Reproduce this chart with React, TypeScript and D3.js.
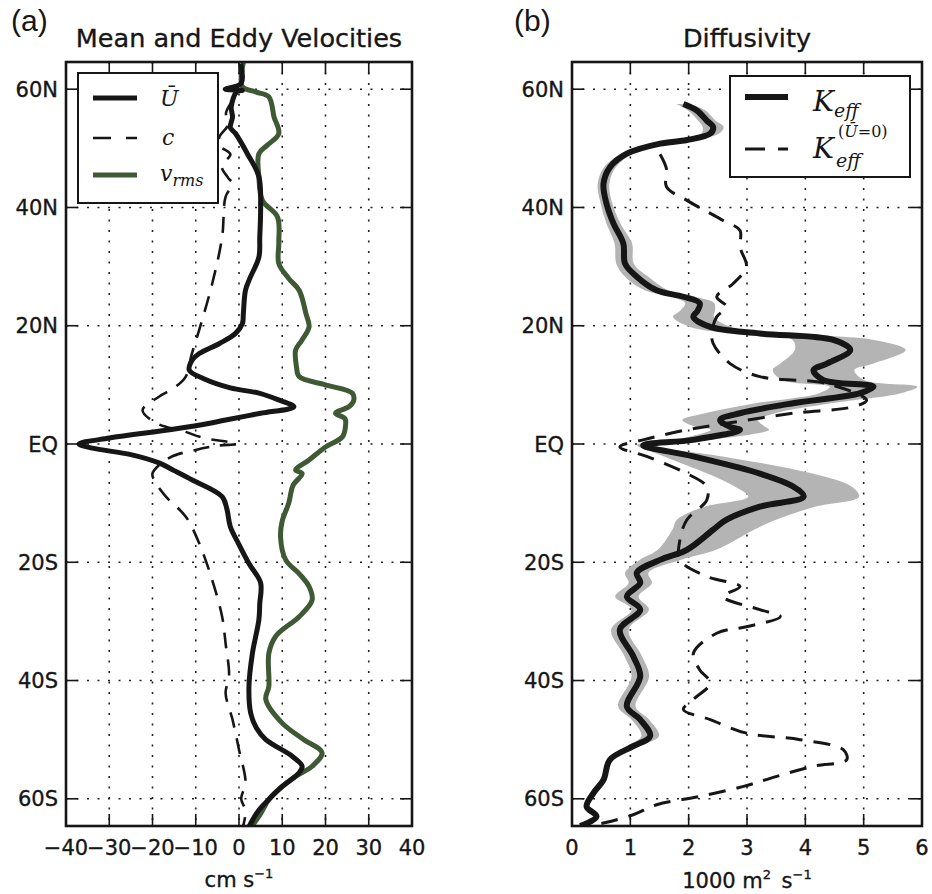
import React from 'react';
import * as d3 from 'd3';

// tick labels
const latTicks = [60, 40, 20, 0, -20, -40, -60];
const latLabels = ['60N', '40N', '20N', 'EQ', '20S', '40S', '60S'];
const velTicks = [-40, -30, -20, -10, 0, 10, 20, 30, 40];
const velLabels = ['\u221240', '\u221230', '\u221220', '\u221210', '0', '10', '20', '30', '40'];
const kTicks = [0, 1, 2, 3, 4, 5, 6];
const kLabels = ['0', '1', '2', '3', '4', '5', '6'];

// (a) mean zonal velocity U-bar, cm/s
const uLat = [64.3, 61, 60.0, 59.8, 59.6, 57, 55.3, 53.5, 52.5, 49, 45.2, 40.1, 35, 31.6, 28, 26, 22, 20.4, 18.7, 17, 15.3, 14.2, 12.5, 11, 9.5, 8.6, 7.5, 6.3, 5.2, 4.05, 3.2, 2.4, 1.0, 0, -0.7, -1.8, -3.2, -4.5, -6.1, -8.9, -11, -14, -17, -20.2, -23.5, -27, -29.7, -35.4, -41, -45.5, -48, -50, -52.8, -54.5, -55.6, -57.9, -60.1, -62, -64.7];
const uVal = [0.4, 0.5, -3.2, 0.8, -0.5, -1.8, -1.5, -2.0, -0.8, 2.0, 4.6, 5.0, 4.8, 4.6, 2.5, 1.5, 1.0, 0.8, -0.8, -4.5, -9.2, -10.8, -11.5, -8, -2, 4.6, 9, 12.7, 5, -3.1, -9, -16, -30, -37, -33.9, -25, -18.5, -15, -10.8, -3.9, -2.8, -2.0, 0, 2.3, 5.0, 4.8, 4.6, 3.1, 2.3, 2.7, 4.0, 6.2, 12.3, 14.6, 13.9, 10, 6.9, 4.5, 2.3];

// (a) eddy phase speed c, cm/s
const cLat = [58, 56, 54, 52, 50.5, 49, 47, 45, 44, 41.8, 35, 27.1, 19.3, 15, 11.4, 9.5, 8, 5.7, 3.5, 2.2, 1.0, 0.3, 0, -0.3, -1.0, -2.3, -5, -6.6, -8.9, -12.3, -16.8, -23, -29.2, -33.7, -39.3, -42.1, -46.6, -51.7, -57.3, -60, -62, -64.5];
const cVal = [-1.5, -3, -2.5, -4.5, -4.6, -2, -4, -2.5, -1.5, -3.1, -3.9, -6.2, -9.2, -11, -12.3, -15, -18.5, -22.3, -19, -13, -8, -2, -0.5, -5, -10, -16, -20, -19.2, -16.9, -12.3, -9.2, -6.2, -3.9, -3.1, -2.3, -3.1, -1.5, 0, 1.5, 0.5, 1.5, 1.0];

// (a) rms eddy velocity, cm/s
const vLat = [64.5, 62, 60.4, 59.5, 58.7, 55.3, 52.5, 50.5, 49.1, 45.2, 41.2, 38.4, 34, 30.5, 28, 26, 22, 19.8, 17.5, 15.9, 13, 11.4, 10, 8.6, 7.3, 6.3, 5.2, 4.3, 2.9, 1.2, -0.5, -2.7, -4.4, -5, -7, -10, -13, -15.7, -19.6, -22, -24.1, -26.4, -29.2, -32.5, -35.4, -41, -43.2, -47.2, -50, -52.2, -54.5, -56.2, -58.4, -60.1, -62.5, -64.6];
const vVal = [1.0, 0.5, 0.8, 4, 6.9, 8.1, 9.2, 6.5, 4.6, 4.6, 5.4, 8.9, 9.2, 9.2, 11.5, 13.9, 15.5, 16.2, 14.5, 13.1, 13.3, 13.9, 20, 26.2, 26.5, 25.4, 22.3, 24.5, 24.6, 23.9, 20, 16.2, 13.1, 14.6, 12.5, 11.5, 10, 9.6, 10.8, 14, 16.2, 16.9, 13.9, 8.5, 6.9, 6.9, 6.2, 10, 15, 19.2, 16.9, 13.1, 9.2, 6.9, 5, 3.0];

// (b) effective diffusivity, 1000 m2/s, with uncertainty half-width
const kLat = [57.5, 56.4, 54.7, 53.6, 52.5, 51.4, 50.8, 49.1, 46.8, 44, 40.7, 37.3, 33.9, 30.5, 28.3, 26, 24.9, 23.8, 22.5, 21.5, 19.8, 18.7, 17.6, 15.9, 13.6, 12.5, 10.8, 9.7, 8.6, 6.9, 5.2, 4.05, 2.9, 2.4, 0.7, -0.2, -2.1, -5, -7.2, -8.9, -10.6, -12.8, -14.5, -17.9, -19.6, -21.8, -23.5, -25.8, -28, -31.4, -35.9, -39.3, -44.4, -46.6, -49.4, -51.1, -53.4, -56.8, -59, -61.3, -63, -64.6];
const kVal = [1.91, 2.14, 2.31, 2.42, 2.37, 1.97, 1.51, 0.94, 0.65, 0.54, 0.59, 0.71, 0.88, 0.91, 1.11, 1.45, 1.91, 2.19, 2.15, 2.08, 2.37, 3.22, 4.48, 4.77, 4.37, 4.14, 4.31, 5.17, 4.94, 3.79, 2.88, 2.54, 2.71, 2.88, 2.08, 1.22, 2.08, 3.22, 3.79, 3.97, 3.22, 2.65, 2.42, 1.97, 1.51, 1.11, 1.17, 0.94, 1.17, 0.82, 1.05, 1.17, 0.94, 1.17, 1.34, 1.05, 0.65, 0.54, 0.37, 0.25, 0.42, 0.14];
const kErr = [0.12, 0.15, 0.15, 0.18, 0.15, 0.12, 0.1, 0.1, 0.1, 0.1, 0.1, 0.12, 0.15, 0.15, 0.2, 0.2, 0.2, 0.25, 0.3, 0.35, 0.35, 0.45, 0.7, 0.95, 0.8, 0.7, 0.7, 0.75, 0.7, 0.65, 0.6, 0.65, 0.6, 0.5, 0.3, 0.1, 0.5, 0.9, 1.0, 0.95, 0.95, 0.85, 0.7, 0.5, 0.35, 0.2, 0.2, 0.2, 0.15, 0.15, 0.15, 0.15, 0.15, 0.15, 0.15, 0.1, 0.05, 0.02, 0, 0, 0, 0];

// (b) diffusivity with U-bar = 0
const k0Lat = [49, 46.5, 43.5, 41.2, 37.8, 36.1, 33.3, 30, 27.1, 24.9, 23.2, 21.5, 19, 17, 13.6, 11.4, 10.2, 7.4, 6.3, 5.2, 3.5, 2.4, 0.7, -0.5, -2.1, -5, -7.2, -9.5, -12.8, -16.2, -19.6, -22.4, -24.1, -25.8, -28, -29.2, -30.9, -32, -35.4, -38.2, -40.4, -43.2, -44.9, -46.6, -48.9, -50, -51.7, -53.4, -54.5, -56.2, -57.9, -59.6, -61, -62.7, -64.1, -64.9];
const k0Val = [1.51, 1.62, 1.62, 1.97, 2.59, 2.88, 2.88, 2.99, 2.76, 2.48, 2.65, 2.48, 2.4, 2.42, 2.71, 3.22, 4.37, 5.05, 4.82, 3.79, 2.65, 1.97, 1.22, 0.82, 1.28, 1.97, 2.31, 2.31, 1.97, 1.85, 1.85, 2.31, 2.88, 2.59, 3.22, 3.57, 2.99, 2.48, 2.08, 2.19, 2.37, 2.08, 1.91, 2.37, 2.99, 3.91, 4.65, 4.71, 4.14, 3.51, 2.94, 2.19, 1.45, 1.05, 0.54, 0.14];

const TOP = 62;
const BOTTOM = 826;
const A = { left: 66, right: 412 };
const B = { left: 572, right: 922 };
const GREEN = '#3e5934';
const INK = '#161616';
const SANS = 'DejaVu Sans, sans-serif';
const SERIF = 'DejaVu Serif, serif';

const y = d3.scaleLinear().domain([-64.6, 64.6]).range([BOTTOM, TOP]);
const xA = d3.scaleLinear().domain([-40, 40]).range([A.left, A.right]);
const xB = d3.scaleLinear().domain([0, 6]).range([B.left, B.right]);

const profile = (lat: number[], val: number[], x: d3.ScaleLinear<number, number>) =>
  d3.line<number>()
    .x(i => x(val[i]))
    .y(i => y(lat[i]))
    .curve(d3.curveCatmullRom.alpha(0.5))(d3.range(lat.length)) || '';

const band = d3.area<number>()
  .y(i => y(kLat[i]))
  .x0(i => xB(kVal[i] - kErr[i]))
  .x1(i => xB(kVal[i] + kErr[i]))
  .curve(d3.curveCatmullRom.alpha(0.5))(d3.range(kLat.length)) || '';

// dark scanned-looking labels
const labelStyle = { fill: INK, stroke: INK, strokeWidth: 0.35 };

const Grid = ({ left, right, x, ticks }: any) => (
  <g>
    {latTicks.map(t => (
      <line key={'h' + t} x1={left} x2={right} y1={y(t)} y2={y(t)} stroke="#222" strokeWidth={1.6} strokeDasharray="2,8.5" />
    ))}
    {ticks.slice(1, -1).map((t: number) => (
      <line key={'v' + t} x1={x(t)} x2={x(t)} y1={TOP} y2={BOTTOM} stroke="#222" strokeWidth={1.6} strokeDasharray="2,8.5" />
    ))}
  </g>
);

const Axes = ({ left, right, x, ticks, labels }: any) => (
  <g>
    <rect x={left} y={TOP} width={right - left} height={BOTTOM - TOP} fill="none" stroke={INK} strokeWidth={2.6} />
    {latTicks.map(t => (
      <g key={'yt' + t}>
        <line x1={left} x2={left + 12} y1={y(t)} y2={y(t)} stroke={INK} strokeWidth={1.6} />
        <line x1={right - 12} x2={right} y1={y(t)} y2={y(t)} stroke={INK} strokeWidth={1.6} />
      </g>
    ))}
    {latTicks.map((t, i) => (
      <text key={'yl' + t} x={left - 8} y={y(t)} dy="0.36em" textAnchor="end" fontFamily={SANS} fontSize={21} style={labelStyle}>
        {latLabels[i]}
      </text>
    ))}
    {ticks.map((t: number, i: number) => (
      <g key={'xt' + t}>
        <line x1={x(t)} x2={x(t)} y1={BOTTOM} y2={BOTTOM - 12} stroke={INK} strokeWidth={1.6} />
        <line x1={x(t)} x2={x(t)} y1={TOP} y2={TOP + 12} stroke={INK} strokeWidth={1.6} />
        <text x={x(t)} y={BOTTOM + 29} textAnchor="middle" fontFamily={SANS} fontSize={21} style={labelStyle}>
          {labels[i]}
        </text>
      </g>
    ))}
  </g>
);

export default function App() {
  return (
    <svg width={932} height={894} style={{ position: 'absolute', left: 0, top: 0, background: '#fff' }}>
      <defs>
        <clipPath id="clipA"><rect x={A.left} y={TOP} width={A.right - A.left} height={BOTTOM - TOP} /></clipPath>
        <clipPath id="clipB"><rect x={B.left} y={TOP} width={B.right - B.left} height={BOTTOM - TOP} /></clipPath>
      </defs>
      <rect width={932} height={894} fill="#fff" />

      {/* panel (a) */}
      <text x={11} y={31} fontFamily="Liberation Sans, Arial, sans-serif" fontSize={30} fill={INK}>(a)</text>
      <text x={(A.left + A.right) / 2} y={47} textAnchor="middle" fontFamily={SANS} fontSize={25.5} style={labelStyle}>Mean and Eddy Velocities</text>
      <Grid left={A.left} right={A.right} x={xA} ticks={velTicks} />
      <g clipPath="url(#clipA)">
        <path d={profile(cLat, cVal, xA)} fill="none" stroke={INK} strokeWidth={2.6} strokeDasharray="16,11" />
        <path d={profile(vLat, vVal, xA)} fill="none" stroke={GREEN} strokeWidth={5} strokeLinejoin="round" />
        <path d={profile(uLat, uVal, xA)} fill="none" stroke={INK} strokeWidth={5} strokeLinejoin="round" />
      </g>
      <Axes left={A.left} right={A.right} x={xA} ticks={velTicks} labels={velLabels} />
      <text x={(A.left + A.right) / 2} y={887} textAnchor="middle" fontFamily={SANS} fontSize={21} style={labelStyle}>
        cm s<tspan dy={-9} fontSize={13}>{'\u22121'}</tspan>
      </text>
      <g>
        <rect x={78} y={73} width={140} height={130} fill="#fff" stroke={INK} strokeWidth={2} />
        <line x1={93} x2={137} y1={98} y2={98} stroke={INK} strokeWidth={5} />
        <line x1={93} x2={137} y1={138} y2={138} stroke={INK} strokeWidth={2.6} strokeDasharray="18,15" />
        <line x1={93} x2={137} y1={175} y2={175} stroke={GREEN} strokeWidth={5} />
        <text x={160} y={106} fontFamily={SERIF} fontStyle="italic" fontSize={22} fill={INK}>{'\u016A'}</text>
        <text x={162} y={145} fontFamily={SERIF} fontStyle="italic" fontSize={22} fill={INK}>c</text>
        <text x={160} y={181} fontFamily={SERIF} fontStyle="italic" fontSize={22} fill={INK}>
          v<tspan dy={5} fontSize={16}>rms</tspan>
        </text>
      </g>

      {/* panel (b) */}
      <text x={514} y={31} fontFamily="Liberation Sans, Arial, sans-serif" fontSize={30} fill={INK}>(b)</text>
      <text x={(B.left + B.right) / 2} y={47} textAnchor="middle" fontFamily={SANS} fontSize={25.5} style={labelStyle}>Diffusivity</text>
      <Grid left={B.left} right={B.right} x={xB} ticks={kTicks} />
      <g clipPath="url(#clipB)">
        <path d={band} fill="#b4b4b4" stroke="none" />
        <path d={profile(k0Lat, k0Val, xB)} fill="none" stroke={INK} strokeWidth={3} strokeDasharray="17,11" />
        <path d={profile(kLat, kVal, xB)} fill="none" stroke={INK} strokeWidth={6} strokeLinejoin="round" />
      </g>
      <Axes left={B.left} right={B.right} x={xB} ticks={kTicks} labels={kLabels} />
      <text x={(B.left + B.right) / 2} y={888} textAnchor="middle" fontFamily={SANS} fontSize={21} style={labelStyle}>
        1000 m<tspan dy={-9} fontSize={13}>2</tspan><tspan dy={9}>{'\u2002s'}</tspan><tspan dy={-9} fontSize={13}>{'\u22121'}</tspan>
      </text>
      <g>
        <rect x={730} y={76} width={180} height={101} fill="#fff" stroke={INK} strokeWidth={2} />
        <line x1={745} x2={788} y1={97} y2={97} stroke={INK} strokeWidth={6} />
        <line x1={745} x2={788} y1={149} y2={149} stroke={INK} strokeWidth={3} strokeDasharray="20,13" />
        <text x={813} y={111} fontFamily={SERIF} fontStyle="italic" fontSize={28} fill={INK}>
          K<tspan dy={6} fontSize={19}>eff</tspan>
        </text>
        <text x={813} y={158} fontFamily={SERIF} fontStyle="italic" fontSize={28} fill={INK}>K</text>
        <text x={836} y={167} fontFamily={SERIF} fontStyle="italic" fontSize={19} fill={INK}>eff</text>
        <text x={838} y={137} fontFamily={SERIF} fontSize={16} fill={INK}>
          (<tspan fontStyle="italic">{'\u016A'}</tspan>=0)
        </text>
      </g>
    </svg>
  );
}
